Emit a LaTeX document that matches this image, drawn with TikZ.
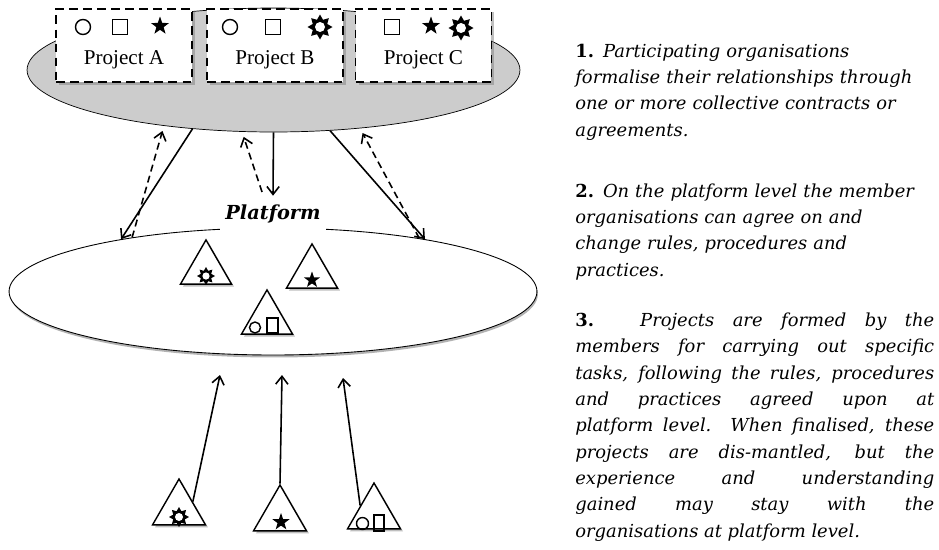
\documentclass[tikz,border=0pt]{standalone}
\usepackage{fontspec}
\setmainfont{DejaVu Serif}
\newfontfamily\projfont{Liberation Serif}
\usepackage{tikz}
\usetikzlibrary{shapes.geometric,shadows,arrows.meta,positioning}

\tolerance=10000
\hbadness=10000
\hfuzz=20pt
\hyphenpenalty=10000
\exhyphenpenalty=10000

\tikzset{
	projbox/.style={draw, line width=1.1pt, dash pattern=on 5pt off 3pt, fill=white,
		minimum width=2.72cm, minimum height=1.46cm, inner sep=0pt,
		drop shadow={shadow xshift=0.06cm, shadow yshift=-0.06cm, fill=black!50}},
	projlabel/.style={font=\projfont\fontsize{12}{14}\selectfont, inner sep=0pt},
	circsym/.style={circle, draw, thick, inner sep=0pt, minimum size=#1},
	sqsym/.style={rectangle, draw, thick, inner sep=0pt, minimum size=#1},
	starsym/.style={star, star points=5, star point ratio=2.5, fill=black, inner sep=0pt, minimum size=#1},
	sunsym/.style={star, star points=8, star point ratio=1.6, fill=black, inner sep=0pt, minimum size=#1,
		path picture={\fill[white] (path picture bounding box.center) circle (0.2*#1);}},
	tri/.style={regular polygon, regular polygon sides=3, draw, thick, fill=white, inner sep=0pt,
		minimum size=#1, drop shadow={shadow xshift=0.05cm, shadow yshift=-0.05cm, fill=black!50}},
	solidarr/.style={line width=0.9pt, -{Straight Barb[length=4.5pt,width=7pt]}},
	dasharr/.style={solidarr, dash pattern=on 4pt off 2.5pt, shorten >=3pt},
	note/.style={anchor=base west, inner sep=0pt, text width=7.18cm,
		font=\itshape\fontsize{10.2}{15}\selectfont},
}

\begin{document}
\begin{tikzpicture}[x=0.02cm, y=-0.02cm]
	\useasboundingbox (0,0) rectangle (939,549);

	% Agreements level with the three projects
	\node [ellipse, draw, fill=black!20, minimum width=9.86cm, minimum height=2.48cm, inner sep=0pt] (agree) at (273.5,70) {};
	\node [projbox] (projA) at (124,45.5) {};
	\node [projbox] (projB) at (275,45.5) {};
	\node [projbox] (projC) at (423.5,45.5) {};

	\node [circsym=0.3cm] (projA1) at (83,27) {};
	\node [sqsym=0.3cm] (projA2) at (120,27) {};
	\node [starsym=0.38cm] (projA3) at (160,26) {};
	\node [projlabel] (lblA) at (124,60) {Project A};

	\node [circsym=0.3cm] (projB1) at (230,27) {};
	\node [sqsym=0.3cm] (projB2) at (273,27) {};
	\node [sunsym=0.5cm] (projB3) at (320,27) {};
	\node [projlabel] (lblB) at (275,60) {Project B};

	\node [sqsym=0.3cm] (projC1) at (392,27) {};
	\node [starsym=0.38cm] (projC2) at (431,26) {};
	\node [sunsym=0.5cm] (projC3) at (461,28) {};
	\node [projlabel] (lblC) at (423.5,60) {Project C};

	% Platform level
	\node [ellipse, draw, line width=0.5pt, fill=white, minimum width=10.56cm, minimum height=2.54cm, inner sep=0pt,
		drop shadow={shadow xshift=0.02cm, shadow yshift=-0.05cm, fill=black!60}] (plat) at (273,291.5) {};
	\node [fill=white, inner xsep=3pt, inner ysep=5pt, font=\bfseries\itshape\fontsize{11}{13}\selectfont] (plab) at (273,214) {Platform};

	\node [tri=1.18cm] (tsun) at (206,269.4) {};
	\node [sunsym=0.36cm] (tsun1) at (206,276) {};
	\node [tri=1.18cm] (tstar) at (312,273.4) {};
	\node [starsym=0.34cm] (tstar1) at (312,280) {};
	\node [tri=1.18cm] (tmix) at (267,319.4) {};
	\node [circsym=0.22cm] (tmix1) at (255,327.5) {};
	\node [sqsym=0.22cm, minimum height=0.3cm] (tmix2) at (272.5,325.5) {};

	% Arrows between the two levels
	\draw [solidarr] (agree.216) -- (plat.161.5);
	\draw [dasharr] (plat.159.5) -- (agree.207.2);
	\coordinate (pin) at (262,192);
	\draw [dasharr] (pin) -- (agree.243.6);
	\draw [solidarr] (agree.270) -- (plab.north);
	\draw [solidarr] (agree.313.1) -- (plat.19);
	\draw [dasharr] (plat.20.5) -- (agree.326.1);

	% Projects formed by the members
	\node [tri=1.224cm] (bsun) at (179,509.6) {};
	\node [sunsym=0.4cm] (bsun1) at (179,517) {};
	\node [tri=1.224cm] (bstar) at (280,515.6) {};
	\node [starsym=0.36cm] (bstar1) at (281,522) {};
	\node [tri=1.224cm] (bmix) at (374,513.6) {};
	\node [circsym=0.24cm] (bmix1) at (362.5,523.5) {};
	\node [sqsym=0.2cm, minimum height=0.32cm] (bmix2) at (379,523) {};

	\coordinate (ua) at (220,375);
	\coordinate (ub) at (282,375);
	\coordinate (uc) at (343,378);
	\draw [solidarr] (bsun.side 3) -- (ua);
	\draw [solidarr] (bstar.corner 1) -- (ub);
	\draw [solidarr] (bmix.side 1) -- (uc);

	% Notes on the right
	\node [note, align=left] (note1) at (575,57) {\textbf{\upshape 1.} Participating organisations\\
		formalise their relationships through\\ one or more collective contracts or\\ agreements.};
	\node [note, align=left] (note2) at (575,197) {\textbf{\upshape 2.} On the platform level the member\\
		organisations can agree on and\\ change rules, procedures and\\ practices.};
	\node [note, align=justify] (note3) at (575,326.5) {\textbf{\upshape 3.} Projects are formed by the\linebreak
		members for carrying out specific\linebreak tasks, following the rules, procedures\linebreak
		and practices agreed upon at\linebreak platform level. When finalised, these\linebreak
		projects are dis-mantled, but the\linebreak experience and understanding\linebreak
		gained may stay with the\linebreak organisations at platform level.};
\end{tikzpicture}
\end{document}
